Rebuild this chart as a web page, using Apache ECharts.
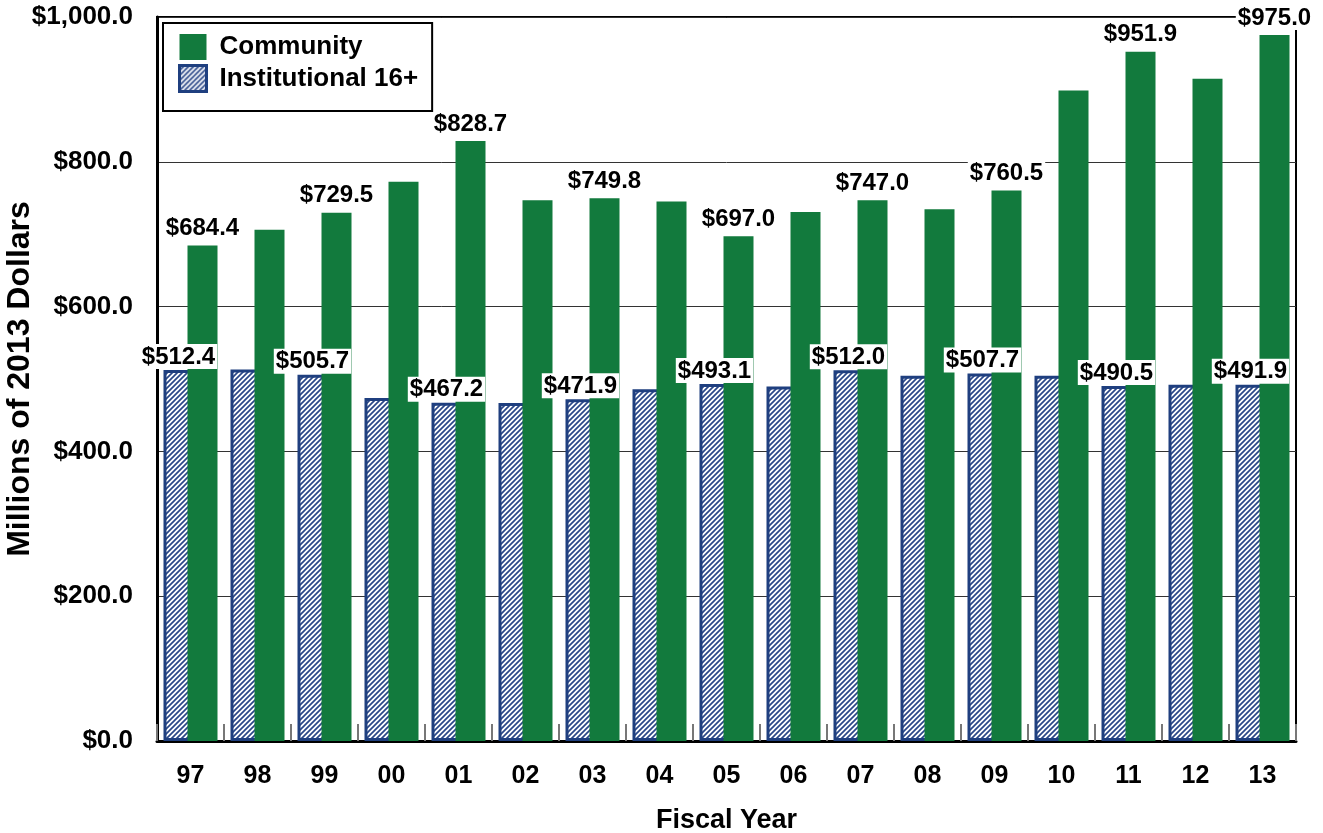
<!DOCTYPE html>
<html>
<head>
<meta charset="utf-8">
<script src="https://cdn.jsdelivr.net/npm/echarts@6/dist/echarts.min.js"></script>
<style>
html,body{margin:0;padding:0;background:#fff;}
#chart{width:1323px;height:833px;}
</style>
</head>
<body>
<div id="chart"></div>
<script>
const categories = ['97','98','99','00','01','02','03','04','05','06','07','08','09','10','11','12','13'];
const communityValues = [684.4, 706.1, 729.5, 772.3, 828.7, 747.0, 749.8, 745.2, 697.0, 730.8, 747.0, 734.3, 760.5, 898.6, 951.9, 914.6, 975.0];
const institutionalValues = [512.4, 513.2, 505.7, 473.7, 467.2, 466.8, 471.9, 485.7, 493.1, 489.8, 512.0, 504.5, 507.7, 504.5, 490.5, 492.0, 491.9];
const yTicks = [0, 200, 400, 600, 800, 1000];
const seriesNames = ['Community', 'Institutional 16+'];

const FONT = '"Liberation Sans", Arial, sans-serif';
const GREEN = '#127A3D';
const NAVY = '#1F3F7F';

function makeHatch() {
  const s = 5;
  const c = document.createElement('canvas');
  c.width = s; c.height = s;
  const g = c.getContext('2d');
  g.fillStyle = '#ffffff';
  g.fillRect(0, 0, s, s);
  g.strokeStyle = '#2a4788';
  g.lineWidth = 1.7;
  g.beginPath();
  g.moveTo(-1, s + 1); g.lineTo(s + 1, -1);
  g.moveTo(-1, 1); g.lineTo(1, -1);
  g.moveTo(s - 1, s + 1); g.lineTo(s + 1, s - 1);
  g.stroke();
  return c;
}
const hatch = { image: makeHatch(), repeat: 'repeat' };

function money(v) {
  return '$' + v.toFixed(1).replace(/\B(?=(\d{3})+(?!\d))/g, ',');
}

function buildData(vals) {
  return vals.map((v, i) => ({ value: v, label: { show: i % 2 === 0 } }));
}

const chart = echarts.init(document.getElementById('chart'), null, { renderer: 'canvas' });

const labelStyle = {
  fontFamily: FONT, fontWeight: 'bold', fontSize: 24, color: '#000',
  backgroundColor: '#fff', padding: [1, 2, 0, 2],
  formatter: p => money(p.value)
};

chart.setOption({
  animation: false,
  backgroundColor: '#fff',
  grid: {
    left: 157, right: 27, top: 17, bottom: 92,
    containLabel: false, outerBoundsMode: 'none',
    show: true, borderColor: '#000', borderWidth: 2, backgroundColor: 'transparent'
  },
  legend: {
    orient: 'vertical', left: 163, top: 23,
    backgroundColor: '#fff', borderColor: '#000', borderWidth: 2,
    padding: [11, 14, 18, 15], itemWidth: 27, itemHeight: 26, itemGap: 4,
    textStyle: { fontFamily: FONT, fontWeight: 'bold', fontSize: 26, color: '#000', padding: [0, 0, 0, 8] },
    data: [
      { name: seriesNames[0], icon: 'rect' },
      { name: seriesNames[1], icon: 'rect', itemStyle: { color: hatch, borderColor: NAVY, borderWidth: 3 } }
    ]
  },
  xAxis: {
    type: 'category', data: categories,
    name: 'Fiscal Year', nameLocation: 'middle', nameGap: 66, nameMoveOverlap: false,
    nameTextStyle: { fontFamily: FONT, fontWeight: 'bold', fontSize: 27, color: '#000' },
    axisLine: { lineStyle: { color: '#000', width: 3 } },
    axisTick: { show: true, inside: true, length: 17, lineStyle: { color: '#777', width: 2 } },
    axisLabel: { fontFamily: FONT, fontWeight: 'bold', fontSize: 25, color: '#000', margin: 23 },
    splitLine: { show: false }
  },
  yAxis: {
    type: 'value', min: yTicks[0], max: yTicks[yTicks.length - 1], interval: 200,
    name: 'Millions of 2013 Dollars', nameLocation: 'middle', nameGap: 121, nameRotate: 90, nameMoveOverlap: false,
    nameTextStyle: { fontFamily: FONT, fontWeight: 'bold', fontSize: 32, color: '#000' },
    axisLine: { show: true, lineStyle: { color: '#000', width: 3 } },
    axisTick: { show: false },
    axisLabel: { fontFamily: FONT, fontWeight: 'bold', fontSize: 26, color: '#000', margin: 24, formatter: v => money(v) },
    splitLine: { show: true, lineStyle: { color: '#333', width: 1 } }
  },
  series: [
    {
      name: seriesNames[1], type: 'bar', barWidth: 30, barGap: '-20%',
      data: buildData(institutionalValues),
      itemStyle: { color: hatch, borderColor: NAVY, borderWidth: 3 },
      label: Object.assign({ position: 'top', distance: 1 }, labelStyle)
    },
    {
      name: seriesNames[0], type: 'bar', barWidth: 30, barGap: '-20%',
      data: buildData(communityValues),
      itemStyle: { color: GREEN },
      label: Object.assign({ position: 'top', distance: 5 }, labelStyle)
    }
  ]
});
</script>
</body>
</html>
